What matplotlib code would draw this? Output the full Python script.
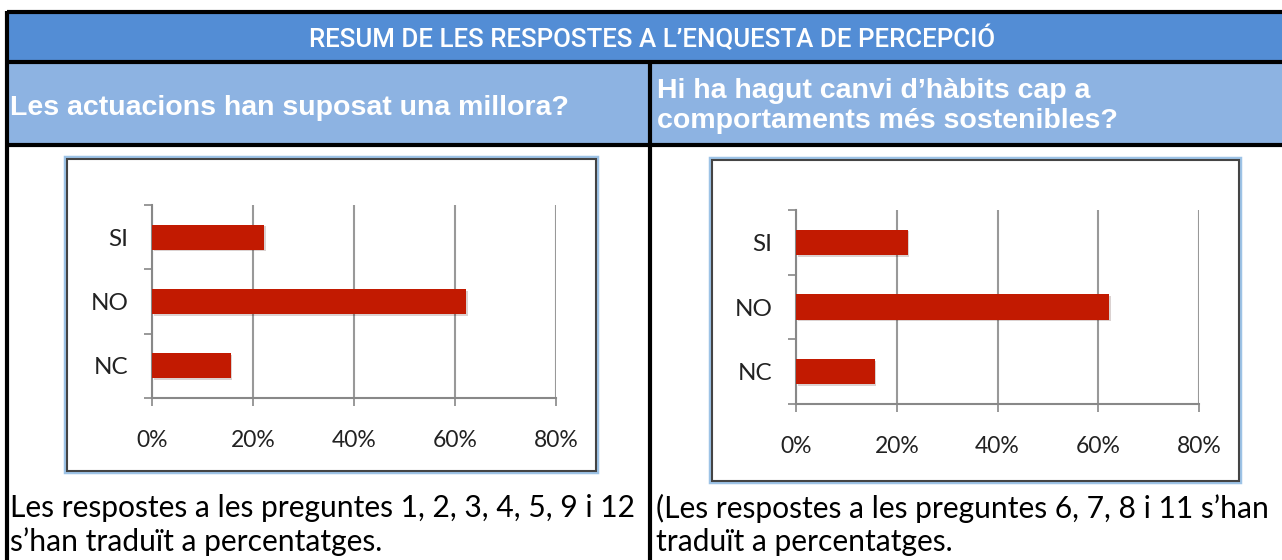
import matplotlib
matplotlib.use("Agg")
import matplotlib.pyplot as plt
from matplotlib.patches import Rectangle
import matplotlib.patheffects as pe

# ---- data ----
title = "RESUM DE LES RESPOSTES A L\u2019ENQUESTA DE PERCEPCIÓ"
question_left = "Les actuacions han suposat una millora?"
question_right = "Hi ha hagut canvi d\u2019hàbits cap a\ncomportaments més sostenibles?"
caption_left = "Les respostes a les preguntes 1, 2, 3, 4, 5, 9 i 12\ns\u2019han traduït a percentatges."
caption_right = "(Les respostes a les preguntes 6, 7, 8 i 11 s\u2019han\ntraduït a percentatges."
categories = ["SI", "NO", "NC"]
values_left = [22.2, 62.2, 15.6]
values_right = [22.2, 62.2, 15.6]
xticks = [0, 20, 40, 60, 80]
xticklabels = ["0%", "20%", "40%", "60%", "80%"]

W, H = 1282, 560
fig = plt.figure(figsize=(W / 100, H / 100), dpi=100)

# background layer in pixel coordinates
bg = fig.add_axes([0, 0, 1, 1])
bg.set_xlim(0, W)
bg.set_ylim(H, 0)
bg.axis("off")

DARK_BLUE = "#538DD5"
LIGHT_BLUE = "#8DB3E2"
BAR_RED = "#C21A01"

# header rows
bg.add_patch(Rectangle((7, 12), W - 7, 50, facecolor=DARK_BLUE, edgecolor="none"))
bg.add_patch(Rectangle((7, 62), W - 7, 83, facecolor=LIGHT_BLUE, edgecolor="none"))
# table lines
lw = 3.0
bg.plot([7, W], [12, 12], color="black", lw=lw, solid_capstyle="butt")
bg.plot([7, W], [62, 62], color="black", lw=lw, solid_capstyle="butt")
bg.plot([7, W], [145, 145], color="black", lw=lw, solid_capstyle="butt")
bg.plot([7, 7], [11, H], color="black", lw=lw, solid_capstyle="butt")
bg.plot([650, 650], [62, H], color="black", lw=lw, solid_capstyle="butt")

bg.text(652, 39, title, color="white", fontsize=18.6, ha="center", va="center",
        fontweight="medium", family=["Roboto", "DejaVu Sans"])
bg.text(10, 108, question_left, color="white", fontsize=20.5, ha="left", va="center",
        fontweight="bold", family=["Liberation Sans", "DejaVu Sans"])
bg.text(657, 106, question_right, color="white", fontsize=20.5, ha="left", va="center",
        fontweight="bold", family=["Liberation Sans", "DejaVu Sans"], linespacing=1.2)

cap_font = ["Lato", "DejaVu Sans"]
bg.text(10, 525, caption_left, color="black", fontsize=21.6, ha="left", va="center",
        family=cap_font, linespacing=1.22)
bg.text(656, 525, caption_right, color="black", fontsize=21.6, ha="left", va="center",
        family=cap_font, linespacing=1.22)

# chart frames
for (x0, y0, x1, y1) in [(65, 157, 597, 472), (710, 158, 1240, 482)]:
    bg.add_patch(Rectangle((x0, y0), x1 - x0, y1 - y0, facecolor="white",
                           edgecolor="#9DC3E6", lw=2.5))
    bg.add_patch(Rectangle((x0 + 1.5, y0 + 1.5), x1 - x0 - 3, y1 - y0 - 3, facecolor="none",
                           edgecolor="#444444", lw=1.5))


def draw_chart(rect_px, values):
    l, r, t, b = rect_px
    ax = fig.add_axes([l / W, 1 - b / H, (r - l) / W, (b - t) / H])
    ax.set_facecolor("none")
    y = list(range(len(categories)))
    bars = ax.barh(y, values, height=0.39, color=BAR_RED, zorder=3)
    for bar in bars:
        bar.set_path_effects([pe.SimplePatchShadow(offset=(1.2, -1.2), alpha=0.18), pe.Normal()])
    ax.set_ylim(len(categories) - 0.5, -0.5)
    ax.set_xlim(0, 80)
    ax.set_xticks(xticks)
    ax.set_xticklabels(xticklabels)
    ax.set_yticks(y)
    ax.set_yticklabels(categories)
    ax.set_yticks([i - 0.5 for i in range(len(categories) + 1)], minor=True)
    ax.tick_params(axis="y", which="major", length=0, pad=17)
    ax.tick_params(axis="y", which="minor", length=6, width=1.2, color="#888888")
    ax.tick_params(axis="x", length=6, width=1.2, color="#888888", pad=17)
    for lab in ax.get_xticklabels() + ax.get_yticklabels():
        lab.set_fontsize(16.5)
        lab.set_family(["Lato", "DejaVu Sans"])
        lab.set_color("#222222")
    for lab in ax.get_yticklabels():
        lab.set_fontsize(17.5)
    ax.grid(axis="x", color="#999999", lw=1.5, zorder=0)
    for s in ["top", "right"]:
        ax.spines[s].set_visible(False)
    for s in ["left", "bottom"]:
        ax.spines[s].set_color("#888888")
        ax.spines[s].set_linewidth(1.5)
    return ax


draw_chart((152, 556, 205, 398), values_left)
draw_chart((796, 1199, 210, 404), values_right)

fig.savefig("out.png", dpi=100)
